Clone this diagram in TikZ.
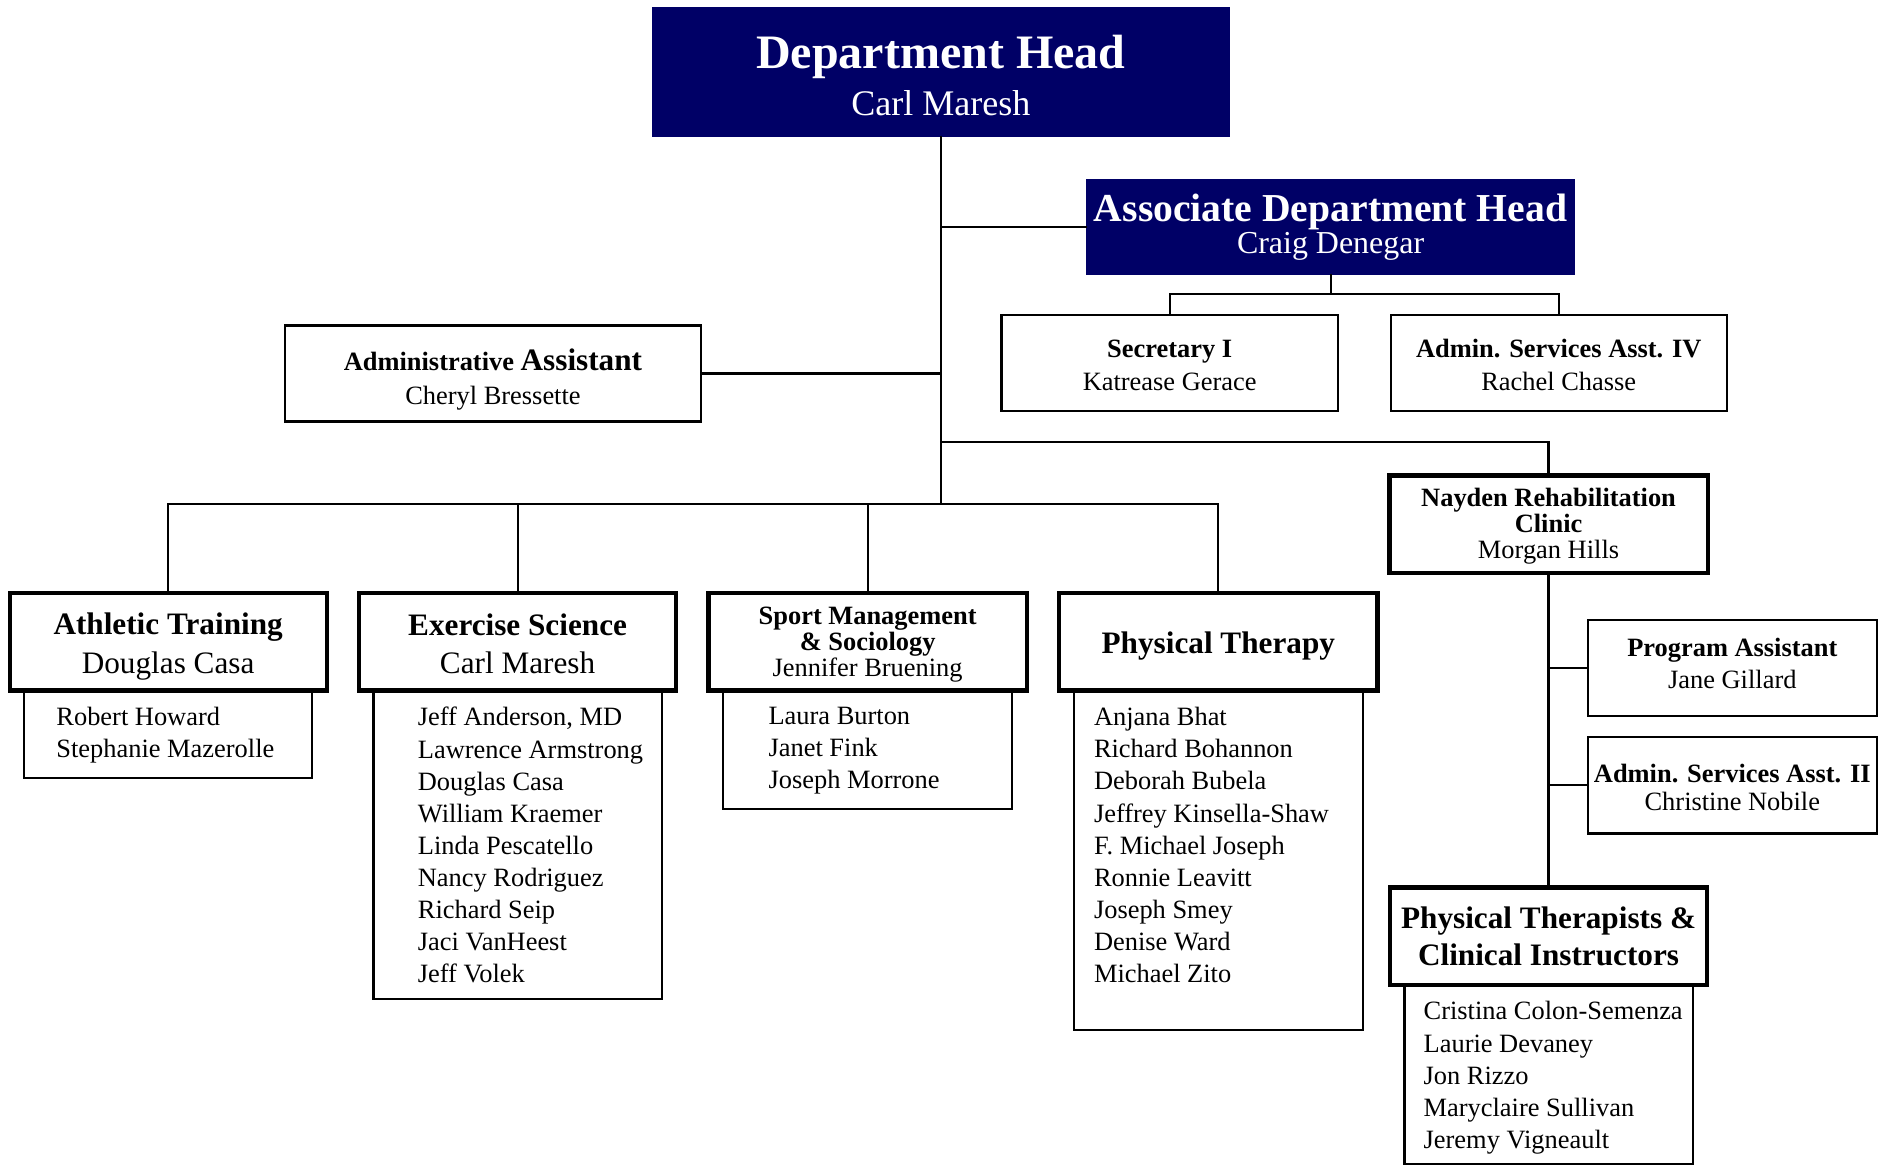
\documentclass[tikz,border=0pt]{standalone}
\usepackage{fontspec}
\setmainfont{Liberation Serif}
\usetikzlibrary{positioning}
\definecolor{deptnavy}{RGB}{0,0,102}
\newcommand{\boxstrut}[1]{\rule{0pt}{#1}}
\tikzset{every node/.style={inner sep=0pt, outer sep=0pt, align=center}}
\tikzset{headbox/.style={draw=deptnavy, fill=deptnavy, text=white}}
\tikzset{staffbox/.style={draw=black, line width=1.8pt, minimum width=280pt, minimum height=80pt, font=\fontsize{22}{27}\selectfont}}
\tikzset{unitbox/.style={draw=black, line width=3.5pt, minimum width=264pt, minimum height=81pt, font=\fontsize{26}{32}\selectfont\bfseries}}
\tikzset{listbox/.style={draw=black, line width=1.8pt, minimum width=240pt}}
\tikzset{names/.style={align=left, anchor=north west, font=\fontsize{22}{26.75}\selectfont}}
\tikzset{every edge/.style={draw=black, line width=1.8pt}}

\begin{document}
\begin{tikzpicture}[x=1pt, y=-1pt, line width=1.8pt]
  \useasboundingbox (0,0) rectangle (1568,972);

  % heads
  \node[headbox, minimum width=479pt, minimum height=106pt, font=\fontsize{30}{39}\selectfont] (dh) at (783.5,60)
    {\boxstrut{34pt}{\fontsize{40}{48}\selectfont\bfseries Department Head}\\Carl Maresh};
  \node[headbox, minimum width=406pt, minimum height=78pt, font=\fontsize{26.6}{27}\selectfont] (adh) at (1108,189)
    {{\fontsize{33}{40}\selectfont\bfseries Associate Department Head}\\Craig Denegar};

  % office staff
  \node[staffbox, minimum width=347pt, font=\fontsize{22}{29}\selectfont] (aa) at (410.5,311)
    {\boxstrut{28pt}{\bfseries Administrative {\fontsize{26}{27}\selectfont Assistant}}\\Cheryl Bressette};
  \node[staffbox] (sec) at (974,302) {\boxstrut{19pt}{\bfseries Secretary I}\\Katrease Gerace};
  \node[staffbox] (asa4) at (1298,302) {\boxstrut{19pt}{\bfseries Admin. Services Asst. IV}\\Rachel Chasse};

  % clinic
  \node[unitbox, minimum width=265pt, font=\fontsize{22}{21.5}\selectfont] (nrc) at (1289.5,436.5)
    {\boxstrut{19pt}{\bfseries Nayden Rehabilitation}\\{\bfseries Clinic}\\Morgan Hills};
  \node[staffbox, minimum width=241pt] (pa) at (1442.5,556)
    {{\bfseries Program Assistant}\\Jane Gillard\rule[-7pt]{0pt}{7pt}};
  \node[staffbox, minimum width=241pt, font=\fontsize{22}{23}\selectfont] (asa2) at (1442.5,654)
    {\boxstrut{19pt}{\bfseries Admin. Services Asst. II}\\Christine Nobile};
  \node[unitbox, font=\fontsize{26}{31}\selectfont\bfseries] (ptci) at (1289.5,779.5)
    {Physical Therapists \&\\Clinical Instructors};
  \node[listbox, minimum height=149pt, below=0pt of ptci] (ptcil) {};
  \node[names] (ptcin) at ([xshift=16pt,yshift=-14pt]ptcil.north west)
    {Cristina Colon-Semenza\\Laurie Devaney\\Jon Rizzo\\Maryclaire Sullivan\\Jeremy Vigneault};

  % programs
  \node[unitbox] (atu) at (140,534.5) {\boxstrut{25.6pt}Athletic Training\\{\mdseries Douglas Casa}};
  \node[listbox, minimum height=73pt, below=0pt of atu] (atl) {};
  \node[names] (atn) at ([xshift=27pt,yshift=-14pt]atl.north west) {Robert Howard\\Stephanie Mazerolle};

  \node[unitbox] (esu) at (431,534.5) {\boxstrut{21.2pt}Exercise Science\\{\mdseries Carl Maresh}};
  \node[listbox, minimum height=257pt, below=0pt of esu] (esl) {};
  \node[names] (esn) at ([xshift=37pt,yshift=-14pt]esl.north west)
    {Jeff Anderson, MD\\Lawrence Armstrong\\Douglas Casa\\William Kraemer\\Linda Pescatello\\Nancy Rodriguez\\Richard Seip\\Jaci VanHeest\\Jeff Volek};

  \node[unitbox, minimum width=265pt, font=\fontsize{22}{21.5}\selectfont] (smu) at (722.5,534.5)
    {\boxstrut{19pt}{\bfseries Sport Management}\\{\bfseries \& Sociology}\\Jennifer Bruening};
  \node[listbox, minimum width=241pt, minimum height=99pt, below=0pt of smu] (sml) {};
  \node[names] (smn) at ([xshift=38pt,yshift=-14pt]sml.north west) {Laura Burton\\Janet Fink\\Joseph Morrone};

  \node[unitbox, minimum width=265pt] (ptu) at (1014.5,534.5) {\boxstrut{25.6pt}Physical Therapy};
  \node[listbox, minimum width=241pt, minimum height=283pt, below=0pt of ptu] (ptl) {};
  \node[names] (ptn) at ([xshift=17pt,yshift=-14pt]ptl.north west)
    {Anjana Bhat\\Richard Bohannon\\Deborah Bubela\\Jeffrey Kinsella-Shaw\\F. Michael Joseph\\Ronnie Leavitt\\Joseph Smey\\Denise Ward\\Michael Zito};

  % connectors
  \coordinate (nbus) at (783.5,368);
  \coordinate (bus) at (783.5,420);
  \coordinate (abus) at (1108,245);

  \path (dh.south) edge (bus);
  \path (adh.west) edge (adh.west -| dh.south);
  \path (aa.east) edge (aa.east -| dh.south);
  \path (adh.south) edge (abus);
  \draw (abus) -| (sec.north);
  \draw (abus) -| (asa4.north);

  \draw (nbus) -| (nrc.north);
  \path (nrc.south) edge (ptci.north);
  \path (pa.west) edge (pa.west -| nrc.south);
  \path (asa2.west) edge (asa2.west -| nrc.south);

  \draw (bus) -| (atu.north);
  \draw (bus) -| (esu.north);
  \draw (bus) -| (smu.north);
  \draw (bus) -| (ptu.north);
\end{tikzpicture}
\end{document}
